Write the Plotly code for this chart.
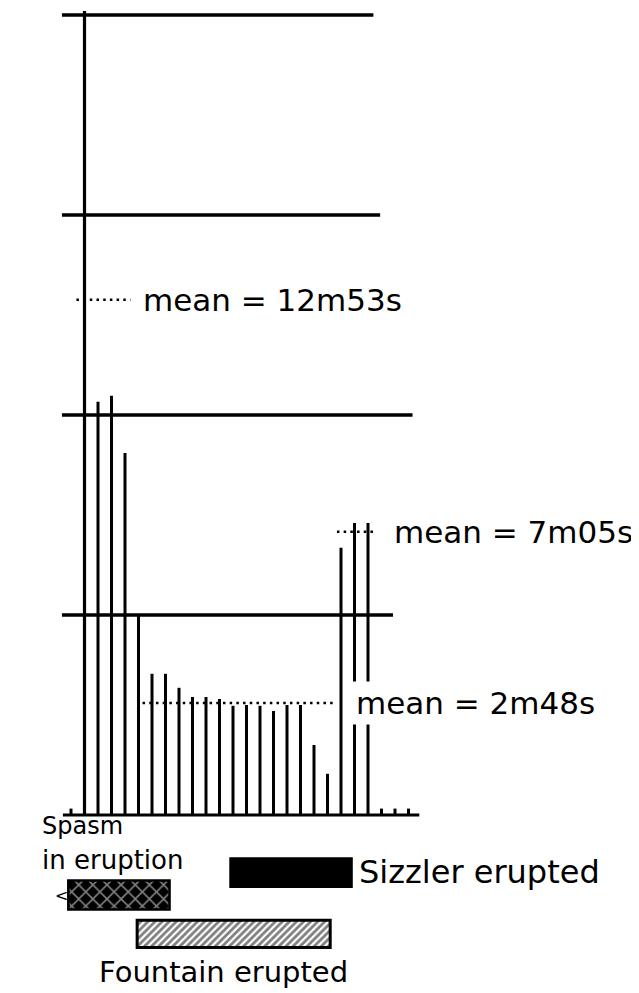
import plotly.graph_objects as go

# durées des intervalles (minutes)
bar_index = list(range(1, 22))
interval_min = [10.33, 10.48, 9.05, 4.98, 3.53, 3.53, 3.18, 2.95, 2.95, 2.90, 2.73,
                2.75, 2.73, 2.60, 2.75, 2.75, 1.75, 1.03, 6.68, 7.30, 7.30]
empty_slots = [-1, 22, 23, 24]
grid_values = [5, 10, 15, 20]

mean_labels = ["mean = 12m53s", "mean = 7m05s", "mean = 2m48s"]
mean_values = [12 + 53 / 60, 7 + 5 / 60, 2 + 48 / 60]
mean_spans = [(-0.6, 3.4), (18.7, 21.5), (4.3, 18.4)]

# périodes d'éruption (en unités d'intervalle)
spasm_span = (-1.2, 6.3)
fountain_span = (3.9, 18.2)
sizzler_span = (10.8, 19.8)

# la page ajoute une marge de 8 px autour de la figure
PX_X = 13.5   # pixels par intervalle
PX_Y = 40.0   # pixels par minute
X0, Y0 = 84.5 - 8, 815 - 8  # origine en pixels dans la figure
W, H = 631, 985
FONT = "DejaVu Sans"

fig = go.Figure()

fig.add_trace(go.Bar(
    x=bar_index, y=interval_min, width=3 / PX_X,
    marker=dict(color="black", line_width=0), showlegend=False,
))

# pointillés des moyennes
for (x0, x1), v in zip(mean_spans, mean_values):
    fig.add_trace(go.Scatter(
        x=[x0, x1], y=[v, v], mode="lines",
        line=dict(color="black", width=2.5, dash="2.5px,4.2px"),
        showlegend=False, hoverinfo="skip",
    ))

# barres d'éruption (horizontales)
legend_bars = [
    (sizzler_span, -1.44, 0.72, dict(color="black", line=dict(color="black", width=2))),
    (spasm_span, -2.0, 0.72, dict(color="black", line=dict(color="black", width=2.5),
                                  pattern=dict(shape="x", bgcolor="black", fgcolor="white",
                                               size=10, solidity=0.3))),
    (fountain_span, -2.97, 0.68, dict(color="white", line=dict(color="black", width=3),
                                      pattern=dict(shape="/", bgcolor="white", fgcolor="black",
                                                   size=5, solidity=0.55))),
]
for (a, b), yc, h, mk in legend_bars:
    fig.add_trace(go.Bar(
        x=[b - a], base=[a], y=[yc], width=h, orientation="h",
        marker=mk, showlegend=False, hoverinfo="skip",
    ))

# lignes horizontales de repère
grid_right = [22.85, 24.3, 21.9, 21.4]
for v, xr in zip(grid_values, grid_right):
    fig.add_shape(type="line", x0=-1.67, x1=xr, y0=v, y1=v,
                  line=dict(color="black", width=3.5))
# axe vertical et ligne de base
fig.add_shape(type="line", x0=0, x1=0, y0=0, y1=20.1, line=dict(color="black", width=3.2))
fig.add_shape(type="line", x0=-1.6, x1=24.8, y0=0, y1=0, line=dict(color="black", width=3.2))
for s in empty_slots:
    fig.add_shape(type="line", x0=s, x1=s, y0=0, y1=0.16, line=dict(color="black", width=3))

# étiquettes des moyennes (fond blanc qui coupe les barres)
label_x = [4.0, 22.6, 19.8]
for lab, v, lx in zip(mean_labels, mean_values, label_x):
    fig.add_annotation(x=lx, y=v, text=lab, showarrow=False, xanchor="left",
                       yanchor="middle", font=dict(family=FONT, size=31, color="black"),
                       bgcolor="white", borderpad=3)

texts = [
    ("Spasm", -3.3, -0.28, 24),
    ("in eruption", -3.3, -1.12, 26),
    ("<", -2.35, -2.0, 16),
    ("Sizzler erupted", 20.15, -1.42, 32),
    ("Fountain erupted", 0.93, -3.92, 29),
]
for t, x, y, sz in texts:
    fig.add_annotation(x=x, y=y, text=t, showarrow=False, xanchor="left", yanchor="middle",
                       font=dict(family=FONT, size=sz, color="black"))

fig.update_xaxes(range=[-X0 / PX_X, (W - X0) / PX_X], visible=False)
fig.update_yaxes(range=[-(H - Y0) / PX_Y, Y0 / PX_Y], visible=False)
fig.update_layout(
    width=W, height=H, margin=dict(l=0, r=0, t=0, b=0),
    plot_bgcolor="white", paper_bgcolor="white", barmode="overlay",
)

fig.write_html("out.html")
